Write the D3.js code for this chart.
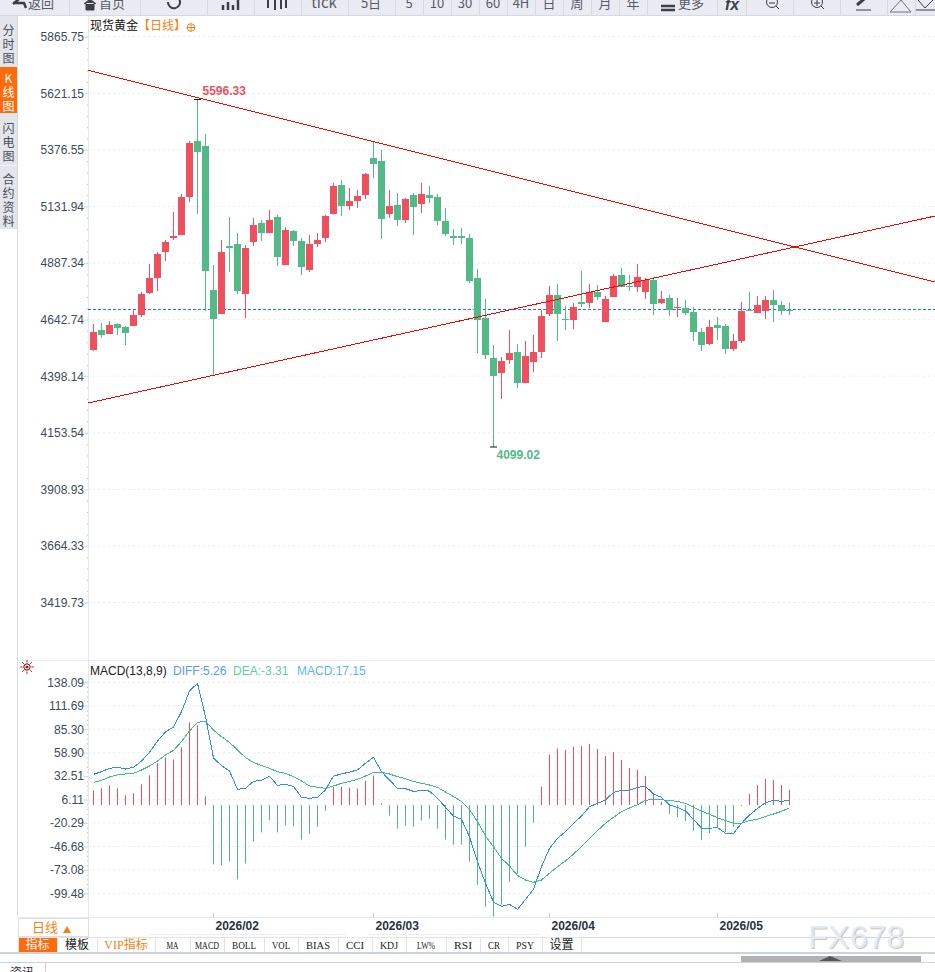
<!DOCTYPE html>
<html>
<head>
<meta charset="utf-8">
<script src="https://cdnjs.cloudflare.com/ajax/libs/d3/7.8.5/d3.min.js"></script>
<style>
  html, body { margin: 0; padding: 0; background: #fff; overflow: hidden; }
  svg { display: block; }
  text { font-family: "Liberation Sans", "Noto Sans CJK SC", sans-serif; }
  .cjk { font-family: "Noto Sans CJK SC", sans-serif; }
</style>
</head>
<body>
<div id="chart"></div>
<script>
// daily candles
var opens = [4511.2,4597.7,4580.4,4623.6,4610.7,4615.0,4662.5,4757.7,4822.5,4934.9,4995.4,5008.4,5172.7,5414.8,5393.2,4770.6,4666.9,4960.9,4969.5,4753.3,4978.1,5060.3,5017.1,5086.2,4878.7,5025.7,4982.5,4857.1,4969.5,4995.4,5099.2,5224.6,5133.8,5155.4,5181.4,5341.3,5328.4,5099.2,5138.1,5073.3,5181.4,5142.5,5181.4,5172.7,5069.0,5004.1,5004.1,4995.5,4822.5,4649.6,4476.7,4411.8,4468.0,4502.6,4368.6,4459.4,4502.6,4666.9,4749.0,4645.3,4641.0,4718.8,4714.5,4762.0,4632.3,4740.4,4835.5,4788.0,4783.6,4762.0,4813.9,4714.5,4736.1,4692.8,4692.8,4675.5,4589.1,4537.2,4619.3,4615.0,4515.6,4550.2,4684.2,4671.2,4679.9,4727.4,4705.8,4684.2]
var highs = [4623.6,4628.0,4636.6,4626.5,4615.0,4687.0,4762.0,4883.0,4934.9,4986.8,5107.8,5185.7,5414.8,5596.33,5445.1,4878.7,4986.8,5086.2,5017.1,4965.2,5081.9,5073.3,5116.5,5094.9,5043.0,5030.0,4995.4,5008.4,5017.1,5094.9,5233.2,5246.2,5211.6,5203.0,5276.5,5410.5,5375.9,5203.0,5190.0,5168.4,5190.0,5233.3,5220.3,5185.7,5125.2,5034.4,5038.7,5012.8,4861.4,4731.7,4532.9,4481.0,4597.7,4537.2,4550.2,4576.1,4684.2,4788.0,4796.6,4701.5,4714.5,4852.8,4796.6,4792.3,4744.7,4839.8,4865.8,4835.5,4883.1,4822.5,4826.9,4766.3,4749.0,4736.1,4727.4,4697.2,4606.4,4641.0,4653.9,4623.7,4580.4,4718.8,4762.0,4744.7,4744.7,4770.7,4723.1,4714.5]
var lows = [4508.3,4564.5,4580.4,4576.1,4532.8,4615.0,4653.9,4753.3,4766.3,4896.0,4986.8,5008.4,5151.1,5099.2,4679.8,4398.8,4666.9,4848.4,4753.3,4649.6,4960.9,4982.5,5017.1,4874.4,4878.7,4960.9,4835.5,4848.4,4956.5,4978.2,5097.0,5090.6,5116.5,5125.2,5164.1,5254.9,4991.1,5081.9,5047.4,5060.3,5008.4,5103.6,5146.8,5051.7,5004.1,4965.2,4969.5,4800.9,4498.3,4472.3,4092.0,4299.4,4450.7,4347.0,4368.6,4416.1,4476.7,4658.2,4550.2,4597.7,4602.1,4697.2,4692.8,4727.4,4632.3,4740.4,4783.6,4766.3,4762.0,4731.8,4662.6,4710.1,4658.3,4653.9,4662.6,4550.2,4506.9,4532.9,4554.5,4494.0,4506.9,4541.5,4679.9,4671.2,4645.3,4632.3,4662.6,4662.6]
var closes = [4589.0,4576.1,4619.3,4606.3,4584.7,4662.5,4753.3,4822.5,4926.3,4978.1,5004.1,5172.7,5406.2,5367.2,4852.8,4645.2,4934.9,4952.2,4766.3,4952.2,5051.6,5017.1,5073.3,4913.3,5030.0,4982.5,4870.1,4969.5,4986.8,5090.6,5220.3,5133.8,5155.4,5177.1,5272.2,5315.4,5077.6,5133.8,5073.3,5164.1,5129.5,5185.7,5168.4,5069.0,5012.8,4995.5,4995.5,4809.6,4641.0,4489.6,4398.9,4463.7,4498.3,4368.6,4485.3,4502.6,4658.2,4749.0,4666.9,4641.0,4697.2,4710.1,4762.0,4740.4,4731.8,4831.2,4783.6,4783.6,4826.9,4813.9,4710.1,4731.8,4684.2,4697.2,4671.2,4589.1,4532.9,4610.7,4606.4,4515.6,4550.2,4679.9,4679.9,4705.8,4727.4,4705.8,4679.9,4679.9]

// MACD panel series
var macdHist = [16.5,18.8,22.1,18.8,10.9,13.1,23.3,33.4,46.9,53.6,51.4,64.9,93.0,89.7,9.8,-66.8,-67.9,-63.4,-83.7,-65.7,-40.9,-30.8,-17.3,-30.8,-22.9,-24.0,-39.0,-32.3,-24.4,-6.4,20.6,20.6,19.5,18.4,27.4,33.0,1.5,-12.0,-26.6,-23.3,-24.4,-17.6,-15.4,-26.6,-39.0,-44.6,-44.6,-63.8,-89.7,-114.4,-125.7,-112.2,-86.3,-77.3,-46.9,-19.9,20.6,56.7,63.4,61.9,65.3,66.4,68.7,63.0,55.1,59.7,50.6,41.6,39.4,32.6,12.4,3.4,-10.1,-13.5,-18.0,-29.3,-39.4,-31.5,-24.8,-30.4,-24.8,-1.1,12.4,22.5,29.3,28.1,22.5,17.15]
var diffLine = [34.5,37.5,41.3,42.4,40.5,42.4,49.5,59.3,72.0,82.2,87.8,105.0,128.3,136.9,99.4,52.9,44.3,38.3,17.6,18.8,26.6,27.8,32.3,22.1,23.2,21.0,8.6,7.5,8.6,16.9,32.6,34.9,37.1,39.4,46.9,53.6,37.5,28.1,18.7,18.4,15.4,16.1,15.7,7.5,-2.6,-12.4,-16.1,-35.7,-63.8,-88.2,-109.2,-114.1,-111.8,-117.4,-106.2,-95.0,-69.4,-48.8,-37.5,-30.0,-20.6,-12.4,-1.9,1.9,5.6,14.2,16.5,16.5,19.9,21.0,12.4,8.6,0,-2.6,-6.8,-16.1,-26.3,-26.3,-25.2,-31.9,-31.9,-20.6,-11.3,-3.8,2.6,5.2,4.1,5.26]
var deaLine = [25.5,27.8,31.5,33.8,34.9,35.6,39.4,43.9,49.5,56.3,61.5,71.3,83.3,93.0,94.5,84.4,76.9,70.5,61.9,53.3,48.0,44.3,41.3,37.5,35.6,31.9,27.0,21.4,19.9,18.7,21.4,24.4,26.6,28.9,32.6,36.8,36.8,34.9,31.9,29.6,26.6,24.4,22.5,19.9,14.6,9.4,4.1,-4.9,-18.8,-34.9,-46.9,-60.0,-68.7,-79.2,-84.4,-87.0,-84.4,-76.9,-69.4,-63.0,-55.2,-46.9,-37.5,-28.9,-20.6,-13.9,-7.5,-3.4,0.4,5.2,6.4,6.0,4.9,4.1,1.9,-2.6,-6.8,-10.5,-14.3,-17.6,-20.6,-20.6,-17.6,-16.1,-13.1,-10.1,-7.1,-3.31]

// axis ticks and labels
var priceTicks = [5865.75,5621.15,5376.55,5131.94,4887.34,4642.74,4398.14,4153.54,3908.93,3664.33,3419.73]
var macdTicks = [138.09,111.69,85.30,58.90,32.51,6.11,-20.29,-46.68,-73.08,-99.48]
var monthLabels = ['2026/02','2026/03','2026/04','2026/05']
var monthIndex = [15,35,57,78]

// trend lines as [candle index, price]
var trendUpper = [[-0.69,5720.5],[105.2,4805.2]]
var trendLower = [[-0.69,4282.1],[105.2,5090.6]]
var lastPrice = 4687.2

// screen furniture
var toolLabels = ['返回','首页','tick','5日','5','10','30','60','4H','日','周','月','年','更多']
var toolCentres = [41,112,324,371,409,437,465,493,521,549,577,605,633,691]
var toolSeps = [69,140,207,254,301,348,395,423,451,479,507,535,563,591,619,647,717,746,793,840,887,915]
var tabLabels = ['指标','模板','VIP指标','MA','MACD','BOLL','VOL','BIAS','CCI','KDJ','LW%','RSI','CR','PSY','设置']
var tabEdges = [18,57,97,155,190,224,264,298,338,372,406,446,480,508,542,581]
var sideTabs = [['分','时','图'],['K','线','图'],['闪','电','图'],['合','约','资','料']]
var sideStart = [35,83,133,184]

var width = 935
var height = 972
var axisX = 88
var red = '#ee5060'
var green = '#52ba87'
var orange = '#f58212'

var svg = d3.select('#chart').append('svg').attr('width', width).attr('height', height)

var xScale = d3.scaleLinear().domain([0, 87]).range([93.5, 789.5])
var yScale = d3.scaleLinear().domain([5865.75, 3419.73]).range([36.7, 602.5])
var mScale = d3.scaleLinear().domain([138.09, -99.48]).range([682.3, 893.4])

// toolbar
svg.append('rect').attr('width', width).attr('height', 15).attr('fill', '#e9ebf3')
svg.append('rect').attr('y', 15).attr('width', width).attr('height', 1).attr('fill', '#d6d9e2')
svg.selectAll('.sep').data(toolSeps).enter().append('rect')
  .attr('class', 'sep').attr('x', function(d) { return d }).attr('y', 0)
  .attr('width', 1).attr('height', 15).attr('fill', '#d6d9e2')
svg.selectAll('.tool').data(toolLabels).enter().append('text')
  .attr('class', 'tool cjk')
  .attr('x', function(d, i) { return toolCentres[i] })
  .attr('y', 8).attr('text-anchor', 'middle')
  .attr('font-size', function(d) { return d === 'tick' ? 15 : 13 })
  .attr('fill', '#565b68')
  .text(function(d) { return d })

// toolbar icons
var icons = svg.append('g').attr('fill', 'none').attr('stroke', '#3c3f48').attr('stroke-width', 2)
icons.append('path').attr('d', 'M13 4 L19 -1 M13 3 L24 3 L26 8').attr('stroke-width', 2.5)
icons.append('path').attr('d', 'M84 4 L90 -1 L96 4 M86 3 V10 H94 V3').attr('fill', '#3c3f48').attr('stroke-width', 1)
icons.append('path').attr('d', 'M179 -1 A6 6 0 1 1 168 2')
icons.append('path').attr('d', 'M223 10 V5 M228 10 V2 M233 10 V5 M238 10 V0').attr('stroke-width', 2.5)
icons.append('path').attr('d', 'M268 0 V8 M275 0 V10 M281 0 V9 M286 0 V8').attr('stroke-width', 2)
icons.append('path').attr('d', 'M661 6 H675 M661 10 H675').attr('stroke-width', 2.5)
icons.append('circle').attr('cx', 772).attr('cy', 2).attr('r', 5.5).attr('stroke-width', 1)
icons.append('path').attr('d', 'M769 3 H775 M776 6 L779 9').attr('stroke-width', 1)
icons.append('circle').attr('cx', 817).attr('cy', 2).attr('r', 5.5).attr('stroke-width', 1)
icons.append('path').attr('d', 'M814 3 H820 M817 0 V6 M821 6 L824 9').attr('stroke-width', 1)
icons.append('path').attr('d', 'M857 5 L864 -1').attr('stroke-width', 3)
icons.append('path').attr('d', 'M856 10 H871').attr('stroke-width', 1)
icons.append('path').attr('d', 'M890 12 L901 0 L911 12 Z').attr('stroke', '#70737c').attr('stroke-width', 1)
icons.append('path').attr('d', 'M918 0 L925 8 L933 0 M916 10 H935').attr('stroke-width', 1)
svg.append('text').attr('x', 732).attr('y', 10).attr('text-anchor', 'middle')
  .attr('font-size', 16).attr('font-weight', 'bold').attr('font-style', 'italic')
  .attr('fill', '#3c3f48').text('fx')

// side tabs
svg.append('rect').attr('x', 0).attr('y', 16).attr('width', 17).attr('height', 213).attr('fill', '#e3e5ec')
svg.append('rect').attr('x', 17).attr('y', 16).attr('width', 1).attr('height', 900).attr('fill', '#d8dce2')
svg.append('rect').attr('x', 0).attr('y', 67).attr('width', 17).attr('height', 46).attr('fill', '#ff6a0a')
svg.append('rect').attr('x', 0).attr('y', 165).attr('width', 17).attr('height', 1).attr('fill', '#f4f5f8')
sideTabs.forEach(function(chars, t) {
  svg.selectAll('.side' + t).data(chars).enter().append('text')
    .attr('class', 'cjk').attr('x', 8.5)
    .attr('y', function(d, i) { return sideStart[t] + i * 14 })
    .attr('text-anchor', 'middle').attr('font-size', 12)
    .attr('fill', t === 1 ? '#fff' : '#4a4f5c')
    .text(function(d) { return d })
})

// grids
svg.append('g').selectAll('line').data(priceTicks).enter().append('line')
  .attr('x1', axisX).attr('x2', width)
  .attr('y1', function(d) { return yScale(d) }).attr('y2', function(d) { return yScale(d) })
  .attr('stroke', '#ececec').attr('stroke-dasharray', '2,3')
svg.append('g').selectAll('line').data(macdTicks).enter().append('line')
  .attr('x1', axisX).attr('x2', width)
  .attr('y1', function(d) { return mScale(d) }).attr('y2', function(d) { return mScale(d) })
  .attr('stroke', '#ececec').attr('stroke-dasharray', '2,3')

// price axis, with four minor ticks inside each major step
function styleAxis(g) {
  g.select('.domain').attr('stroke', '#e4e9ee')
  g.selectAll('.tick line').attr('stroke', '#b9dcf5')
  g.selectAll('.tick text').attr('font-size', 12).attr('fill', '#3d4c5c')
    .attr('font-family', '"Liberation Sans", sans-serif')
}
function minorTicks(ticks) {
  var out = []
  for (var i = 0; i < ticks.length - 1; i++) {
    for (var j = 1; j < 5; j++) out.push(ticks[i] + (ticks[i + 1] - ticks[i]) * j / 5)
  }
  return out
}
svg.append('g').attr('transform', 'translate(' + axisX + ',0)')
  .call(d3.axisLeft(yScale)
    .tickValues(priceTicks).tickSize(4).tickPadding(0).tickFormat(function(d) { return d.toFixed(2) }))
  .call(styleAxis)
svg.append('g').selectAll('rect').data(minorTicks(priceTicks)).enter().append('rect')
  .attr('x', axisX - 1).attr('y', function(d) { return yScale(d) })
  .attr('width', 1).attr('height', 1).attr('fill', '#b8c0c8')
svg.append('rect').attr('x', axisX).attr('y', 16).attr('width', 1).attr('height', 644).attr('fill', '#e4e9ee')

svg.append('g').attr('transform', 'translate(' + axisX + ',0)')
  .call(d3.axisLeft(mScale).tickValues(macdTicks).tickSize(4).tickPadding(0)
    .tickFormat(function(d) { return d.toFixed(2) }))
  .call(styleAxis)
svg.append('g').selectAll('rect').data(minorTicks(macdTicks)).enter().append('rect')
  .attr('x', axisX - 1).attr('y', function(d) { return mScale(d) })
  .attr('width', 1).attr('height', 1).attr('fill', '#b8c0c8')
svg.append('rect').attr('x', axisX).attr('y', 660).attr('width', 1).attr('height', 257).attr('fill', '#e4e9ee')

// panel separator
svg.append('rect').attr('x', 18).attr('y', 660).attr('width', width - 18).attr('height', 1).attr('fill', '#e8ebef')

// last price line
svg.append('line').attr('x1', axisX).attr('x2', width)
  .attr('y1', yScale(lastPrice)).attr('y2', yScale(lastPrice))
  .attr('stroke', '#1a73e8').attr('stroke-width', 1).attr('stroke-dasharray', '3,2')
  .attr('shape-rendering', 'crispEdges')

// candles
var candles = svg.append('g')
candles.selectAll('.wick').data(closes).enter().append('rect')
  .attr('class', 'wick')
  .attr('x', function(d, i) { return xScale(i) - 0.5 })
  .attr('width', 1)
  .attr('y', function(d, i) { return yScale(highs[i]) })
  .attr('height', function(d, i) { return yScale(lows[i]) - yScale(highs[i]) })
  .attr('fill', function(d, i) { return d > opens[i] ? red : green })
candles.selectAll('.body').data(closes).enter().append('rect')
  .attr('class', 'body')
  .attr('x', function(d, i) { return xScale(i) - 3.5 })
  .attr('width', 7)
  .attr('y', function(d, i) { return yScale(Math.max(d, opens[i])) })
  .attr('height', function(d, i) { return Math.max(1, Math.abs(yScale(d) - yScale(opens[i]))) })
  .attr('fill', function(d, i) { return d > opens[i] ? red : green })

// trend lines, cut off at the axis
svg.append('defs').append('clipPath').attr('id', 'plot').append('rect')
  .attr('x', axisX).attr('y', 16).attr('width', width - axisX).attr('height', 644)
var trend = d3.line()
  .x(function(d) { return xScale(d[0]) })
  .y(function(d) { return yScale(d[1]) })
svg.append('g').attr('clip-path', 'url(#plot)').selectAll('path').data([trendUpper, trendLower]).enter().append('path')
  .attr('d', trend).attr('fill', 'none').attr('stroke', '#f00').attr('stroke-width', 1)
  .attr('shape-rendering', 'crispEdges')

// high and low marks
var hiX = xScale(13)
var loX = xScale(50)
svg.append('line').attr('x1', hiX - 3.5).attr('x2', hiX + 3.5)
  .attr('y1', yScale(5596.33) + 0.5).attr('y2', yScale(5596.33) + 0.5).attr('stroke', '#111')
svg.append('line').attr('x1', loX - 3.5).attr('x2', loX + 3.5)
  .attr('y1', yScale(4092)).attr('y2', yScale(4092)).attr('stroke', '#111')
svg.append('text').attr('x', hiX + 5).attr('y', yScale(5596.33) - 4).attr('font-size', 12)
  .attr('font-weight', 'bold').attr('fill', red).text('5596.33')
svg.append('text').attr('x', loX + 3).attr('y', yScale(4092) + 12).attr('font-size', 12)
  .attr('font-weight', 'bold').attr('fill', green).text('4099.02')

// title
svg.append('text').attr('class', 'cjk').attr('x', 90).attr('y', 30).attr('font-size', 12)
  .attr('fill', '#111').text('现货黄金')
svg.append('text').attr('class', 'cjk').attr('x', 138).attr('y', 30).attr('font-size', 12)
  .attr('fill', orange).text('【日线】')
svg.append('circle').attr('cx', 191).attr('cy', 27.5).attr('r', 3.8).attr('fill', 'none').attr('stroke', orange)
svg.append('path').attr('d', 'M187 27.5 H195 M191 23.5 V31.5').attr('stroke', orange)

// MACD histogram
svg.append('g').selectAll('rect').data(macdHist).enter().append('rect')
  .attr('x', function(d, i) { return xScale(i) - 0.5 })
  .attr('width', 1)
  .attr('y', function(d) { return d > 0 ? mScale(d) : mScale(0) })
  .attr('height', function(d) { return Math.abs(mScale(d) - mScale(0)) })
  .attr('fill', function(d) { return d > 0 ? '#e8505f' : '#55b585' })

// DIFF and DEA
var macdLine = d3.line()
  .x(function(d, i) { return xScale(i) })
  .y(function(d) { return mScale(d) })
svg.append('path').attr('d', macdLine(deaLine)).attr('fill', 'none').attr('stroke', '#3fbf86').attr('stroke-width', 1)
  .attr('shape-rendering', 'crispEdges')
svg.append('path').attr('d', macdLine(diffLine)).attr('fill', 'none').attr('stroke', '#2a8cff').attr('stroke-width', 1)
  .attr('shape-rendering', 'crispEdges')

// MACD legend
svg.append('text').attr('x', 90).attr('y', 675).attr('font-size', 12).attr('fill', '#222').text('MACD(13,8,9)')
svg.append('text').attr('x', 173).attr('y', 675).attr('font-size', 12).attr('fill', '#5a9bff').text('DIFF:5.26')
svg.append('text').attr('x', 233).attr('y', 675).attr('font-size', 12).attr('fill', '#5ccf9a').text('DEA:-3.31')
svg.append('text').attr('x', 297).attr('y', 675).attr('font-size', 12).attr('fill', '#5cb8ec').text('MACD:17.15')

// settings sun icon
var sun = svg.append('g').attr('transform', 'translate(27,667)')
sun.append('circle').attr('r', 3.2).attr('fill', 'none').attr('stroke', '#222')
sun.append('circle').attr('r', 1.6).attr('fill', '#e00')
d3.range(8).forEach(function(k) {
  var a = k * Math.PI / 4
  sun.append('line')
    .attr('x1', 4.5 * Math.cos(a)).attr('y1', 4.5 * Math.sin(a))
    .attr('x2', 6.8 * Math.cos(a)).attr('y2', 6.8 * Math.sin(a))
    .attr('stroke', '#e00')
})

// date axis
svg.append('rect').attr('x', 18).attr('y', 917).attr('width', width - 18).attr('height', 1).attr('fill', '#e6e9ed')
svg.selectAll('.month').data(monthLabels).enter().append('text')
  .attr('class', 'month')
  .attr('x', function(d, i) { return xScale(monthIndex[i]) + 2 })
  .attr('y', 930).attr('font-size', 12).attr('font-weight', 'bold').attr('fill', '#2a3344')
  .text(function(d) { return d })
svg.selectAll('.mtick').data(monthIndex).enter().append('rect')
  .attr('class', 'mtick')
  .attr('x', function(d) { return xScale(d) - 0.5 }).attr('y', 913)
  .attr('width', 1).attr('height', 4).attr('fill', '#c8ccd2')
svg.append('rect').attr('x', 150).attr('y', 934).attr('width', 195).attr('height', 1).attr('fill', '#eceef1')
svg.append('rect').attr('x', 368).attr('y', 934).attr('width', 172).attr('height', 1).attr('fill', '#eceef1')

// period box
svg.append('rect').attr('x', 18.5).attr('y', 918.5).attr('width', 70).attr('height', 18)
  .attr('fill', '#fff').attr('stroke', '#dcdfe4')
svg.append('text').attr('class', 'cjk').attr('x', 32).attr('y', 932).attr('font-size', 13)
  .attr('fill', orange).text('日线')
svg.append('path').attr('d', 'M63 933 L67 926 L71 933 Z').attr('fill', orange)

// indicator tabs
svg.append('rect').attr('x', 18).attr('y', 937).attr('width', width - 18).attr('height', 1).attr('fill', '#cfd6dd')
svg.selectAll('.tab').data(tabLabels).enter().append('rect')
  .attr('class', 'tab')
  .attr('x', function(d, i) { return tabEdges[i] + 0.5 }).attr('y', 937.5)
  .attr('width', function(d, i) { return tabEdges[i + 1] - tabEdges[i] }).attr('height', 15)
  .attr('fill', function(d, i) { return i === 0 ? '#ff6a0a' : '#fff' })
  .attr('stroke', '#e0e3e8')
svg.selectAll('.tabtext').data(tabLabels).enter().append('text')
  .attr('class', 'tabtext')
  .attr('x', function(d, i) { return (tabEdges[i] + tabEdges[i + 1]) / 2 }).attr('y', 949)
  .attr('text-anchor', 'middle')
  .attr('font-size', function(d, i) { return i < 3 || i === 14 ? 12 : 11 })
  .style('font-family', '"Liberation Serif", "Noto Sans CJK SC", serif')
  .attr('fill', function(d, i) { return i === 0 ? '#fff' : i === 2 ? orange : '#222' })
  .each(function(d, i) {
    // the plain latin tabs sit in narrow half-width cells
    if (i > 2 && i < 14) d3.select(this).attr('textLength', d.length * 6).attr('lengthAdjust', 'spacingAndGlyphs')
  })
  .text(function(d) { return d })

// bottom strip
svg.append('rect').attr('x', 0).attr('y', 952).attr('width', width).attr('height', 2).attr('fill', '#ccd3da')
svg.append('rect').attr('x', 741).attr('y', 956).attr('width', 180).attr('height', 6).attr('fill', '#b1b1b6')
svg.append('path').attr('d', 'M819 961 L830 956 L842 961 Z').attr('fill', '#55565a')
svg.append('rect').attr('x', 0).attr('y', 962).attr('width', width).attr('height', 1).attr('fill', '#ccd3da')
svg.append('rect').attr('x', 0).attr('y', 963).attr('width', 45).attr('height', 9).attr('fill', '#fff')
svg.append('rect').attr('x', 45).attr('y', 963).attr('width', 1).attr('height', 9).attr('fill', '#ccd3da')
svg.append('text').attr('class', 'cjk').attr('x', 10).attr('y', 977).attr('font-size', 12).attr('fill', '#333').text('资讯')

// watermark
svg.append('text').attr('x', 809).attr('y', 949).attr('font-size', 32).attr('letter-spacing', 0.5)
  .attr('fill', '#c9b9a8').attr('opacity', 0.8).text('FX678')
svg.append('text').attr('x', 808).attr('y', 948).attr('font-size', 32).attr('letter-spacing', 0.5)
  .attr('fill', '#e0ebf7').text('FX678')
</script>
</body>
</html>
